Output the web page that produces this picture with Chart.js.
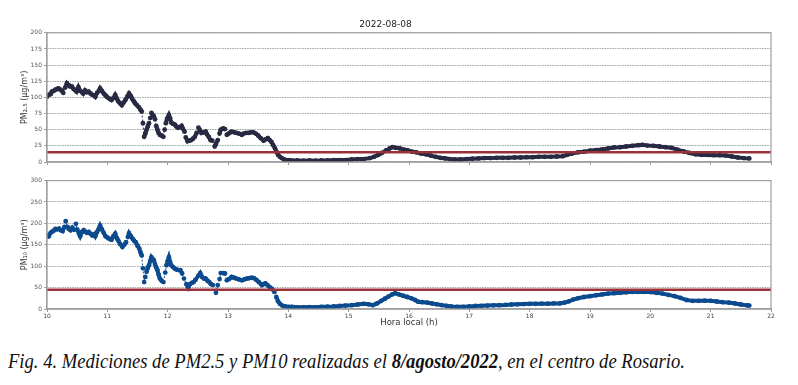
<!DOCTYPE html>
<html>
<head>
<meta charset="utf-8">
<script src="https://cdn.jsdelivr.net/npm/chart.js@4"></script>
<style>
  html, body { margin: 0; padding: 0; background: #fff; }
  body { width: 798px; height: 385px; position: relative; overflow: hidden; }
  .box { position: absolute; left: 0; width: 798px; }
  #caption { position: absolute; left: 8px; top: 350px; font-family: "Liberation Serif", "Times New Roman", serif;
    font-style: italic; font-size: 20px; color: #111; white-space: nowrap;
    transform: scaleX(0.93); transform-origin: left top; }
</style>
</head>
<body>
<div class="box" style="top:0;height:175px"><canvas id="c1"></canvas></div>
<div class="box" style="top:175px;height:160px"><canvas id="c2"></canvas></div>
<div id="caption">Fig. 4. Mediciones de PM2.5 y PM10 realizadas el <b>8/agosto/2022</b>, en el centro de Rosario.</div>
<script>
// ---- data ----
const chartTitle = '2022-08-08';
const xLabel = 'Hora local (h)';
const pm25Label = 'PM\u2082.\u2085 (\u03bcg/m\u00b3)';
const pm10Label = 'PM\u2081\u2080 (\u03bcg/m\u00b3)';
const limitPM25 = 15;
const limitPM10 = 45;

const hours25 = [10.00,10.03,10.06,10.08,10.11,10.14,10.17,10.19,10.22,10.25,10.27,10.30,10.33,10.36,10.38,10.41,10.44,10.47,10.49,10.52,10.55,10.58,10.60,10.63,10.66,10.69,10.72,10.75,10.78,10.80,10.83,10.86,10.88,10.91,10.94,10.97,10.99,11.02,11.05,11.07,11.10,11.13,11.16,11.18,11.21,11.24,11.27,11.30,11.33,11.36,11.39,11.41,11.44,11.46,11.49,11.52,11.55,11.57,11.59,11.61,11.63,11.65,11.67,11.69,11.71,11.73,11.75,11.77,11.79,11.81,11.83,11.85,11.87,11.90,11.93,11.95,11.97,11.99,12.02,12.04,12.06,12.09,12.12,12.14,12.17,12.20,12.23,12.25,12.28,12.30,12.33,12.36,12.39,12.42,12.45,12.48,12.51,12.53,12.56,12.59,12.63,12.65,12.68,12.71,12.74,12.78,12.80,12.83,12.86,12.88,12.92,12.95,12.98,13.01,13.04,13.06,13.10,13.14,13.18,13.23,13.26,13.30,13.34,13.38,13.42,13.46,13.50,13.54,13.59,13.62,13.66,13.69,13.72,13.75,13.78,13.81,13.83,13.86,13.89,13.93,13.97,14.02,14.08,
  14.15,14.25,14.35,14.45,14.55,14.65,14.75,14.85,14.95,15.05,15.15,15.25,15.35,15.42,15.49,15.55,15.62,15.68,15.73,15.78,15.85,15.92,15.98,16.05,16.12,16.20,16.28,16.36,16.44,16.52,16.60,16.68,16.76,16.85,16.95,17.05,17.15,17.25,17.35,17.45,17.55,17.65,17.75,17.85,17.95,18.05,18.15,18.25,18.35,18.45,18.55,18.62,18.70,18.80,18.90,19.00,19.10,19.20,19.30,19.40,19.50,19.60,19.70,19.80,19.87,19.95,20.05,20.15,20.25,20.35,20.45,20.55,20.65,20.75,20.85,20.95,21.05,21.15,21.25,21.35,21.45,21.55,21.64];
const pm25 = [101,104,105,109,110,112,113,114,112,110,107,115,122,119,117,117,113,111,109,116,110,108,106,111,108,109,106,104,103,101,107,110,114,110,106,103,101,99,97,96,99,104,98,94,91,88,92,96,101,106,102,98,94,91,88,85,81,78,60,39,44,50,55,60,68,76,73,71,66,56,50,45,42,41,39,50,60,67,73,68,61,59,58,55,53,54,56,52,47,38,32,33,34,36,39,45,53,50,45,46,47,43,39,34,33,24,28,34,44,50,52,51,42,44,46,47,46,45,44,42,44,45,45,46,46,44,41,37,33,35,37,34,31,26,21,15,11,8,6,4,3,3,2,
  2.5,2,2.5,2,2.5,2.5,3,3,3,4,4.5,4.5,6,8,11,14,18,21,23,22,21,19,18,16,15,13,12,10,8,6.5,5.5,4.5,4,4,4.5,5,5.5,6,6,6.5,6.5,6.5,7,7,7.5,7.5,8,8,8,8.5,9,11,13,15,16,17.5,18.5,19.5,21,22.5,23,24,25,26,26.5,25.5,25,24,23,22,19,16.5,14,12,11,11,10.5,10.5,10,8.5,7,6,5.5];

const hours10 = [10.00,10.03,10.06,10.08,10.11,10.14,10.17,10.20,10.23,10.26,10.29,10.31,10.34,10.36,10.39,10.42,10.45,10.48,10.50,10.53,10.55,10.58,10.61,10.64,10.66,10.69,10.72,10.75,10.78,10.80,10.83,10.86,10.88,10.91,10.94,10.97,10.99,11.02,11.05,11.07,11.10,11.13,11.16,11.18,11.21,11.25,11.28,11.31,11.34,11.36,11.39,11.42,11.44,11.47,11.50,11.53,11.55,11.57,11.59,11.61,11.63,11.65,11.67,11.69,11.71,11.73,11.75,11.77,11.79,11.81,11.83,11.85,11.87,11.90,11.93,11.96,11.98,12.00,12.02,12.04,12.06,12.09,12.12,12.15,12.18,12.21,12.24,12.27,12.31,12.34,12.37,12.40,12.43,12.46,12.51,12.54,12.57,12.60,12.63,12.66,12.69,12.72,12.75,12.80,12.83,12.86,12.88,12.92,12.95,12.98,13.02,13.06,13.10,13.14,13.18,13.23,13.27,13.31,13.35,13.39,13.43,13.47,13.51,13.56,13.59,13.62,13.66,13.70,13.73,13.77,13.80,13.83,13.86,13.90,13.95,14.00,14.06,
  14.15,14.25,14.35,14.45,14.55,14.65,14.75,14.85,14.95,15.05,15.15,15.25,15.33,15.40,15.47,15.54,15.60,15.66,15.72,15.77,15.83,15.90,15.97,16.04,16.10,16.15,16.22,16.30,16.38,16.46,16.54,16.62,16.70,16.80,16.90,17.00,17.10,17.20,17.30,17.40,17.50,17.60,17.70,17.80,17.90,18.00,18.10,18.20,18.30,18.40,18.50,18.58,18.65,18.72,18.80,18.90,19.00,19.10,19.20,19.30,19.40,19.50,19.60,19.70,19.80,19.90,20.00,20.10,20.20,20.30,20.40,20.50,20.60,20.70,20.80,20.90,21.00,21.10,21.20,21.30,21.40,21.50,21.60,21.64];
const pm10 = [172,170,178,180,183,187,186,188,184,182,192,205,192,187,184,190,185,199,186,176,170,180,184,180,178,180,176,172,175,170,180,188,195,186,178,170,168,165,163,162,170,176,165,160,152,145,150,156,168,177,170,164,160,156,148,141,132,125,95,63,75,87,96,102,112,121,117,114,105,97,91,80,71,66,63,85,102,112,121,110,102,98,94,92,91,91,83,71,58,50,58,61,63,68,78,84,75,71,71,66,63,58,56,38,56,70,84,84,83,67,70,75,73,71,69,67,69,71,72,73,72,68,63,56,58,60,55,50,47,40,28,18,12,8,6,5,5,
  4,4,4.5,4,5,5.5,6,7,8,9,10.5,12,11,9,13,19,24,29,34,37,34,31,28,25,21,17,16,15,13,11,9,7.5,6,5,5,6,7,7.5,8,8.5,9,9.5,10.5,11,11.5,12,12,12.5,12.5,13,13,15,18,22,25,28,30,32,34,36,37,38,39,40,40,40,39.5,38,36,33,30,26,21,19,19,19.5,19,17.5,16,15,13,10.5,8.5,8];

const xMin = 10, xMax = 22;

// ---- helpers ----
const toXY = (xs, ys) => xs.map((x, i) => ({x: x, y: ys[i]}));
const limitLine = v => [{x: xMin, y: v}, {x: xMax, y: v}];

const frame = {
  id: 'frame',
  afterDraw(chart) {
    const a = chart.chartArea, ctx = chart.ctx;
    ctx.save();
    ctx.strokeStyle = '#a0a0a0';
    ctx.lineWidth = 1.2;
    ctx.strokeRect(a.left, a.top, a.right - a.left, a.bottom - a.top);
    ctx.restore();
  }
};

function makeChart(id, opts) {
  const seg = {
    borderWidth: c => Math.abs(c.p1.y - c.p0.y) > 5 ? 1 : 4,
    borderDash: c => Math.abs(c.p1.y - c.p0.y) > 5 ? [2, 2] : undefined
  };
  return new Chart(document.getElementById(id), {
    type: 'scatter',
    data: {
      datasets: [
        { data: toXY(opts.xs, opts.ys), showLine: true, borderColor: opts.color, backgroundColor: opts.color,
          pointRadius: 2.4, pointBorderWidth: 0, borderWidth: 4, segment: seg, order: 2 },
        { data: limitLine(opts.limit), showLine: true, borderColor: '#9b3138', borderWidth: 2.5,
          pointRadius: 0, order: 1 }
      ]
    },
    options: {
      responsive: true, maintainAspectRatio: false, animation: false,
      layout: { padding: { left: 0, right: 27, top: opts.padTop, bottom: 0 } },
      plugins: {
        legend: { display: false }, tooltip: { enabled: false },
        title: opts.title ? { display: true, text: opts.title, color: '#222',
          font: { family: 'DejaVu Sans', size: 9, weight: 'normal' }, padding: { top: 19, bottom: 3 } } : { display: false }
      },
      scales: {
        x: {
          type: 'linear', min: xMin, max: xMax,
          afterFit: s => { s.height = opts.xHeight; },
          ticks: { display: opts.xTicks, stepSize: 1, color: '#444', padding: 1,
            font: { family: 'DejaVu Sans', size: 6 }, maxRotation: 0 },
          grid: { drawOnChartArea: false, drawTicks: true, tickLength: 3, color: '#999' },
          border: { display: true, color: '#a0a0a0', width: 1.2 },
          title: { display: !!opts.xTitle, text: opts.xTitle || '', color: '#333',
            font: { family: 'DejaVu Sans', size: 8.5 }, padding: { top: 0, bottom: 7 } }
        },
        y: {
          min: 0, max: opts.yMax,
          afterFit: s => { s.width = 47; },
          ticks: { stepSize: opts.yStep, color: '#555', padding: 2, font: { family: 'DejaVu Sans', size: 6 } },
          grid: { color: '#8a8a8a', lineWidth: 0.8, tickLength: 3 },
          border: { display: true, color: '#a0a0a0', width: 1.2, dash: [1.5, 1] },
          title: { display: true, text: opts.yTitle, color: '#333',
            font: { family: 'DejaVu Sans', size: 8 }, padding: { top: 20, bottom: 0 } }
        }
      }
    },
    plugins: [frame]
  });
}

makeChart('c1', { xs: hours25, ys: pm25, color: '#272a42', limit: limitPM25, yMax: 200, yStep: 25,
  yTitle: pm25Label, title: chartTitle, padTop: 0, xHeight: 13, xTicks: false });
makeChart('c2', { xs: hours10, ys: pm10, color: '#0c4a8e', limit: limitPM10, yMax: 300, yStep: 50,
  yTitle: pm10Label, xTitle: xLabel, padTop: 5, xHeight: 26, xTicks: true });
</script>
</body>
</html>
